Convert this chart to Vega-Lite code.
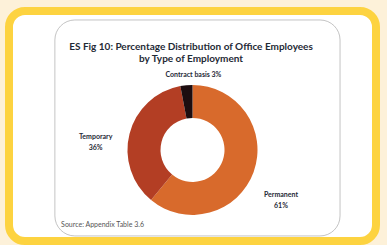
{
  "$schema": "https://vega.github.io/schema/vega-lite/v6.json",
  "width": 387,
  "height": 245,
  "autosize": {"type": "fit", "contains": "padding"},
  "padding": {"left": 9, "top": 11, "right": 11, "bottom": 4},
  "background": "#fdf1d9",
  "config": {
    "view": {"fill": "white", "stroke": "#fdd340", "strokeWidth": 8, "cornerRadius": 16},
    "text": {"font": "Lato"}
  },
  "data": {
    "values": [
      {"type": "Permanent", "pct": 61, "rank": 1},
      {"type": "Temporary", "pct": 36, "rank": 2},
      {"type": "Contract basis", "pct": 3, "rank": 3}
    ]
  },
  "layer": [
    {
      "data": {"values": [{}]},
      "mark": {"type": "rect", "fill": "white", "fillOpacity": 0, "stroke": "#c4c4c4", "strokeWidth": 1, "cornerRadius": 20},
      "encoding": {
        "x": {"datum": 12.5, "type": "quantitative", "scale": {"domain": [0, 100]}, "axis": null},
        "x2": {"datum": 90.2},
        "y": {"datum": 3.9, "type": "quantitative", "scale": {"domain": [0, 100], "reverse": true}, "axis": null},
        "y2": {"datum": 97.8}
      }
    },
    {
      "mark": {"type": "arc", "outerRadius": 65, "innerRadius": 32},
      "encoding": {
        "theta": {"field": "pct", "type": "quantitative", "stack": true},
        "order": {"field": "rank", "type": "quantitative"},
        "color": {
          "field": "type", "type": "nominal", "legend": null,
          "scale": {"domain": ["Permanent", "Temporary", "Contract basis"], "range": ["#d86a2c", "#b33e24", "#1d0d10"]}
        },
        "x": {"datum": 50, "type": "quantitative"},
        "y": {"datum": 60.4, "type": "quantitative"}
      }
    },
    {
      "mark": {"type": "text", "radius": 75, "dx": 8, "fontSize": 7, "fontWeight": "bold", "color": "#1f2a36", "lineBreak": "\n"},
      "encoding": {
        "theta": {"field": "pct", "type": "quantitative", "stack": true},
        "order": {"field": "rank", "type": "quantitative"},
        "text": {"condition": {"test": "datum.type === 'Contract basis'", "value": "Contract basis 3%"}, "value": ""},
        "x": {"datum": 50, "type": "quantitative"},
        "y": {"datum": 60.4, "type": "quantitative"}
      }
    },
    {
      "mark": {"type": "text", "radius": 100, "dy": 12, "fontSize": 7, "fontWeight": "bold", "color": "#1f2a36", "lineBreak": "\n", "lineHeight": 11},
      "encoding": {
        "theta": {"field": "pct", "type": "quantitative", "stack": true},
        "order": {"field": "rank", "type": "quantitative"},
        "text": {"condition": {"test": "datum.type === 'Temporary'", "value": "Temporary\n36%"}, "value": ""},
        "x": {"datum": 50, "type": "quantitative"},
        "y": {"datum": 60.4, "type": "quantitative"}
      }
    },
    {
      "mark": {"type": "text", "radius": 94, "dy": 13, "fontSize": 7, "fontWeight": "bold", "color": "#1f2a36", "lineBreak": "\n", "lineHeight": 11},
      "encoding": {
        "theta": {"field": "pct", "type": "quantitative", "stack": true},
        "order": {"field": "rank", "type": "quantitative"},
        "text": {"condition": {"test": "datum.type === 'Permanent'", "value": "Permanent\n61%"}, "value": ""},
        "x": {"datum": 50, "type": "quantitative"},
        "y": {"datum": 60.4, "type": "quantitative"}
      }
    },
    {
      "data": {"values": [{"t": "ES Fig 10: Percentage Distribution of Office Employees\nby Type of Employment"}]},
      "mark": {"type": "text", "fontSize": 10, "fontWeight": "bold", "color": "#1f2a36", "lineBreak": "\n", "lineHeight": 12, "baseline": "middle"},
      "encoding": {
        "text": {"field": "t"},
        "x": {"datum": 49.6, "type": "quantitative"},
        "y": {"datum": 15.7, "type": "quantitative"}
      }
    },
    {
      "data": {"values": [{"t": "Source: Appendix Table 3.6"}]},
      "mark": {"type": "text", "fontSize": 7, "color": "#555555", "align": "left", "baseline": "middle"},
      "encoding": {
        "text": {"field": "t"},
        "x": {"datum": 14.2, "type": "quantitative"},
        "y": {"datum": 93, "type": "quantitative"}
      }
    }
  ]
}
